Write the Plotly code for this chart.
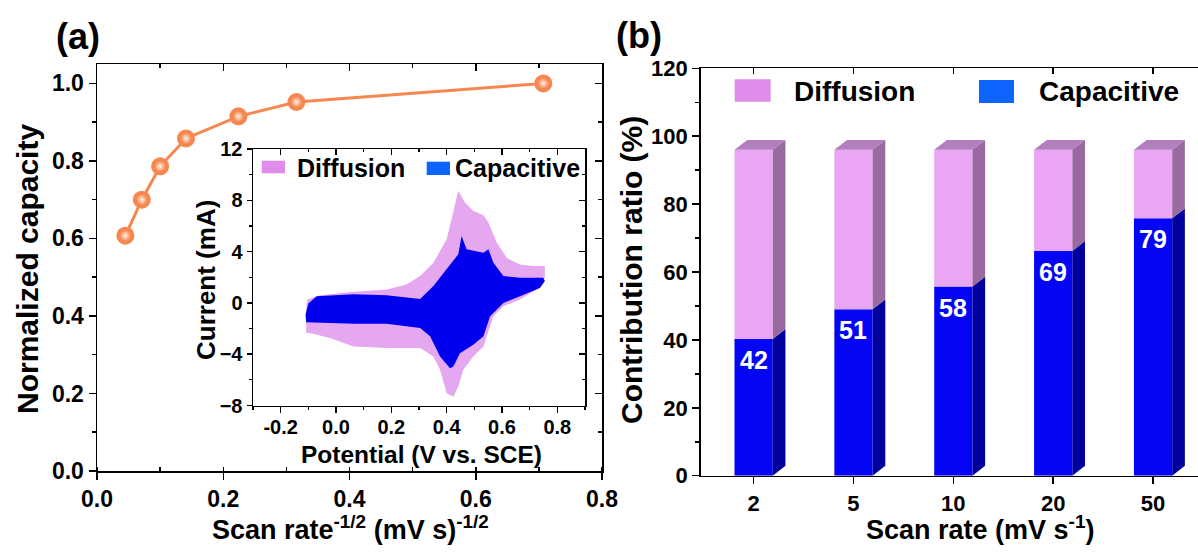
import plotly.graph_objects as go

W, H = 1198, 555
FONT = "Liberation Sans, Arial, sans-serif"

# ---------------- data: panel (a) ----------------
scan_rate_inv_sqrt = [0.045, 0.071, 0.100, 0.141, 0.224, 0.316, 0.707]
normalized_capacity = [0.607, 0.700, 0.786, 0.858, 0.915, 0.952, 1.000]

# ---------------- data: inset CV (potential V, current mA) ----------------
total_upper_x = [-0.108, -0.104, -0.058, 0.063, 0.183, 0.255, 0.304, 0.352, 0.400, 0.424, 0.442,
                 0.466, 0.496, 0.533, 0.551, 0.581, 0.617, 0.665, 0.713, 0.755]
total_upper_y = [-0.5, 0.26, 0.60, 0.86, 1.04, 1.44, 2.09, 3.13, 4.96, 7.05, 8.75,
                 7.83, 7.18, 6.84, 6.27, 4.70, 3.52, 3.00, 2.87, 2.87]
total_lower_x = [0.755, 0.725, 0.665, 0.605, 0.569, 0.545, 0.533, 0.496, 0.460, 0.442, 0.424,
                 0.400, 0.376, 0.352, 0.304, 0.183, 0.063, -0.022, -0.094, -0.108]
total_lower_y = [1.96, 1.04, 0.26, -0.26, -1.04, -2.61, -3.39, -4.18, -5.22, -6.53, -7.31,
                 -7.05, -5.22, -4.18, -3.52, -3.52, -3.39, -2.74, -2.35, -2.35]

cap_upper_x = [-0.110, -0.100, -0.070, 0.063, 0.183, 0.304, 0.352, 0.400, 0.442, 0.454,
               0.472, 0.533, 0.551, 0.569, 0.605, 0.665, 0.749, 0.755]
cap_upper_y = [-0.9, -0.05, 0.52, 0.68, 0.60, 0.31, 1.31, 2.61, 3.79, 5.22,
               4.18, 3.92, 4.18, 3.13, 2.09, 1.96, 1.96, 1.70]
cap_lower_x = [0.737, 0.665, 0.605, 0.557, 0.533, 0.496, 0.448, 0.424, 0.412,
               0.376, 0.340, 0.304, 0.183, 0.063, -0.058, -0.108]
cap_lower_y = [1.17, 0.52, 0.00, -1.04, -2.61, -3.26, -3.92, -4.96, -5.09,
               -4.18, -2.61, -1.96, -1.62, -1.62, -1.57, -1.51]

# ---------------- data: panel (b) ----------------
scan_rates = ["2", "5", "10", "20", "50"]
capacitive_label = [42, 51, 58, 69, 79]
capacitive_height = [40.3, 49.0, 55.7, 66.2, 75.8]
diffusion_height = [55.7, 47.0, 40.3, 29.8, 20.2]

# ---------------- colours ----------------
ORANGE = "#F5874F"
PINK_FILL = "#E5A8F0"
PINK_LEG = "#E08CEB"
BLUE_FILL = "#0000EE"
BLUE_LEG = "#0D64FF"
BAR_BLUE = "#0505F5"
BAR_BLUE_SIDE = "#00009E"
BAR_PINK = "#E9A6F3"
BAR_PINK_SIDE = "#996A9F"
BAR_TOP = "#B27EBE"


def px(x):
    return x / W


def py(y):
    return (H - y) / H


A_X = [px(97), px(602)]
A_Y = [py(471), py(64)]
I_X = [px(253), px(585)]
I_Y = [py(405.5), py(149)]
B_X = [px(700.7), 1.0]
B_Y = [py(475.7), py(68.3)]

fig = go.Figure()

# panel (a) line + markers
fig.add_trace(go.Scatter(
    x=scan_rate_inv_sqrt, y=normalized_capacity, mode="lines+markers",
    line=dict(color=ORANGE, width=3),
    marker=dict(size=18, color=ORANGE, line=dict(width=0)),
    xaxis="x", yaxis="y", showlegend=False, hoverinfo="skip"))
fig.add_trace(go.Scatter(
    x=scan_rate_inv_sqrt, y=normalized_capacity, mode="markers",
    marker=dict(size=11, color=ORANGE, line=dict(width=0),
                gradient=dict(type="radial", color="#FFF1EA")),
    xaxis="x", yaxis="y", showlegend=False, hoverinfo="skip"))

# inset CV fills
fig.add_trace(go.Scatter(
    x=total_upper_x + total_lower_x, y=total_upper_y + total_lower_y,
    fill="toself", fillcolor=PINK_FILL, mode="lines", line=dict(width=0, color=PINK_FILL),
    xaxis="x2", yaxis="y2", showlegend=False, hoverinfo="skip"))
fig.add_trace(go.Scatter(
    x=cap_upper_x + cap_lower_x, y=cap_upper_y + cap_lower_y,
    fill="toself", fillcolor=BLUE_FILL, mode="lines", line=dict(width=0, color=BLUE_FILL),
    xaxis="x2", yaxis="y2", showlegend=False, hoverinfo="skip"))

# panel (b) bars
idx = list(range(len(scan_rates)))
BW = 0.383
DX = 0.127
DY = 2.9
totals = [c + d for c, d in zip(capacitive_height, diffusion_height)]
fig.add_trace(go.Bar(x=idx, y=capacitive_height, width=BW, marker=dict(color=BAR_BLUE, line=dict(width=0)),
                     xaxis="x3", yaxis="y3", showlegend=False, hoverinfo="skip"))
fig.add_trace(go.Bar(x=idx, y=diffusion_height, base=capacitive_height, width=BW,
                     marker=dict(color=BAR_PINK, line=dict(width=0)),
                     xaxis="x3", yaxis="y3", showlegend=False, hoverinfo="skip"))

side_c_x, side_c_y, side_d_x, side_d_y, top_x, top_y = [], [], [], [], [], []
for i, c, t in zip(idx, capacitive_height, totals):
    xr = i + BW / 2
    side_c_x += [xr, xr + DX, xr + DX, xr, xr, None]
    side_c_y += [0, DY, c + DY, c, 0, None]
    side_d_x += [xr, xr + DX, xr + DX, xr, xr, None]
    side_d_y += [c, c + DY, t + DY, t, c, None]
    top_x += [xr - BW, xr - BW + DX, xr + DX, xr, xr - BW, None]
    top_y += [t, t + DY, t + DY, t, t, None]
for xs, ys, col in [(side_c_x, side_c_y, BAR_BLUE_SIDE), (side_d_x, side_d_y, BAR_PINK_SIDE),
                    (top_x, top_y, BAR_TOP)]:
    fig.add_trace(go.Scatter(x=xs, y=ys, fill="toself", fillcolor=col, mode="lines",
                             line=dict(width=0, color=col), xaxis="x3", yaxis="y3",
                             showlegend=False, hoverinfo="skip"))

# dummy traces to register mirror axes
for xa, ya in [("x4", "y"), ("x", "y4"), ("x6", "y2"), ("x2", "y6"), ("x5", "y3")]:
    fig.add_trace(go.Scatter(x=[None], y=[None], xaxis=xa, yaxis=ya, showlegend=False,
                             hoverinfo="skip", mode="markers"))

tickfont_a = dict(family=FONT, size=23, color="black", weight="bold")
tickfont_i = dict(family=FONT, size=20, color="black", weight="bold")
tickfont_b = dict(family=FONT, size=22, color="black", weight="bold")

common = dict(showgrid=False, zeroline=False, showline=True, linecolor="black", linewidth=1.5,
              tickcolor="black", tickwidth=1.5, automargin=False)

fig.update_layout(
    template="none",
    width=W, height=H, margin=dict(l=0, r=0, t=0, b=0, pad=0, autoexpand=False),
    paper_bgcolor="white", plot_bgcolor="rgba(0,0,0,0)",
    font=dict(family=FONT, color="black"),
    barmode="overlay", showlegend=False,
    # panel (a)
    xaxis=dict(domain=A_X, anchor="y", range=[0, 0.8], tickvals=[0, 0.2, 0.4, 0.6, 0.8],
               ticktext=["0.0", "0.2", "0.4", "0.6", "0.8"], ticks="outside", ticklen=7,
               minor=dict(dtick=0.1, ticks="inside", ticklen=4, tickcolor="black", tickwidth=1.5),
               tickfont=tickfont_a, **common),
    xaxis4=dict(overlaying="x", anchor="y", side="top", range=[0, 0.8], dtick=0.2,
                ticks="inside", ticklen=7, showticklabels=False,
                minor=dict(dtick=0.1, ticks="inside", ticklen=4, tickcolor="black", tickwidth=1.5),
                **common),
    yaxis=dict(domain=A_Y, anchor="x", range=[0, 1.05], tickvals=[0, 0.2, 0.4, 0.6, 0.8, 1.0],
               ticktext=["0.0", "0.2", "0.4", "0.6", "0.8", "1.0"], ticks="outside", ticklen=7,
               minor=dict(dtick=0.1, ticks="outside", ticklen=4, tickcolor="black", tickwidth=1.5),
               tickfont=tickfont_a, **common),
    yaxis4=dict(overlaying="y", anchor="x", side="right", range=[0, 1.05], dtick=0.2,
                ticks="inside", ticklen=7, showticklabels=False,
                minor=dict(dtick=0.1, ticks="inside", ticklen=4, tickcolor="black", tickwidth=1.5),
                **common),
    # inset
    xaxis2=dict(domain=I_X, anchor="y2", range=[-0.3, 0.9], tickvals=[-0.2, 0, 0.2, 0.4, 0.6, 0.8],
                ticktext=["-0.2", "0.0", "0.2", "0.4", "0.6", "0.8"], ticks="outside", ticklen=6,
                ticklabelstandoff=-3,
                minor=dict(dtick=0.1, tick0=0, ticks="outside", ticklen=3, tickcolor="black", tickwidth=1.2),
                tickfont=tickfont_i, **common),
    xaxis6=dict(overlaying="x2", anchor="y2", side="top", range=[-0.3, 0.9], dtick=0.2, tick0=0,
                ticks="inside", ticklen=6, showticklabels=False,
                minor=dict(dtick=0.1, tick0=0, ticks="inside", ticklen=3, tickcolor="black", tickwidth=1.2),
                **common),
    yaxis2=dict(domain=I_Y, anchor="x2", range=[-8, 12], tickvals=[-8, -4, 0, 4, 8, 12],
                ticks="outside", ticklen=5,
                minor=dict(dtick=2, ticks="outside", ticklen=3, tickcolor="black", tickwidth=1.2),
                tickfont=tickfont_i, **common),
    yaxis6=dict(overlaying="y2", anchor="x2", side="right", range=[-8, 12], dtick=4,
                ticks="inside", ticklen=6, showticklabels=False,
                minor=dict(dtick=2, ticks="inside", ticklen=3, tickcolor="black", tickwidth=1.2),
                **common),
    # panel (b)
    xaxis3=dict(domain=B_X, anchor="y3", range=[-0.53, 4.45], tickvals=idx, ticktext=scan_rates,
                ticks="outside", ticklen=7, tickfont=tickfont_b, **common),
    xaxis5=dict(overlaying="x3", anchor="y3", side="top", range=[-0.53, 4.45], tickvals=idx,
                ticks="inside", ticklen=6, showticklabels=False, **common),
    yaxis3=dict(domain=B_Y, anchor="x3", range=[0, 120], tickvals=[0, 20, 40, 60, 80, 100, 120],
                ticks="outside", ticklen=7,
                minor=dict(dtick=10, ticks="outside", ticklen=4, tickcolor="black", tickwidth=1.5),
                tickfont=tickfont_b, **common),
)

ann = []


def add_text(text, x, y, size, angle=0, xanchor="center", yanchor="middle", color="black"):
    ann.append(dict(text=text, x=px(x), y=py(y),
                    xref="paper", yref="paper", showarrow=False, textangle=angle,
                    xanchor=xanchor, yanchor=yanchor,
                    font=dict(family=FONT, size=size, color=color, weight="bold")))


add_text("(a)", 77.5, 36, 36)
add_text("(b)", 639, 35, 36)
add_text("Normalized capacity", 27, 269, 30, angle=-90)
add_text("Scan rate<sup>-1/2</sup> (mV s)<sup>-1/2</sup>", 350, 528, 27)
add_text("Current (mA)", 206, 280, 26, angle=-90)
add_text("Potential (V vs. SCE)", 421, 454, 24.5)
add_text("Contribution ratio (%)", 631, 270, 30, angle=-90)
add_text("Scan rate (mV s<sup>-1</sup>)", 980, 528, 27)

# legends
add_text("Diffusion", 295, 168, 25, xanchor="left")
add_text("Capacitive", 453, 168, 25, xanchor="left")
add_text("Diffusion", 792, 91, 28, xanchor="left")
add_text("Capacitive", 1037, 91, 28, xanchor="left")

# bar value labels
for i, c, lab in zip(idx, capacitive_height, capacitive_label):
    ann.append(dict(text=str(lab), x=i, y=c, xref="x3", yref="y3", yshift=-21, showarrow=False,
                    font=dict(family=FONT, size=25, color="white", weight="bold")))

fig.update_layout(annotations=ann)

shapes = []
for x0, x1, y0, y1, col in [(261.7, 285, 160.7, 173.3, PINK_LEG), (426.7, 450, 161.7, 175, BLUE_LEG),
                            (734.7, 770.7, 79.3, 101.7, PINK_LEG), (979, 1014, 80, 103, BLUE_LEG)]:
    shapes.append(dict(type="rect", xref="paper", yref="paper", x0=px(x0), x1=px(x1),
                       y0=py(y1), y1=py(y0), fillcolor=col, line=dict(width=0)))
fig.update_layout(shapes=shapes)

fig.write_html("out.html", config={"displayModeBar": False, "staticPlot": True},
               post_script="document.body.style.margin='0';document.body.style.overflow='hidden';")
